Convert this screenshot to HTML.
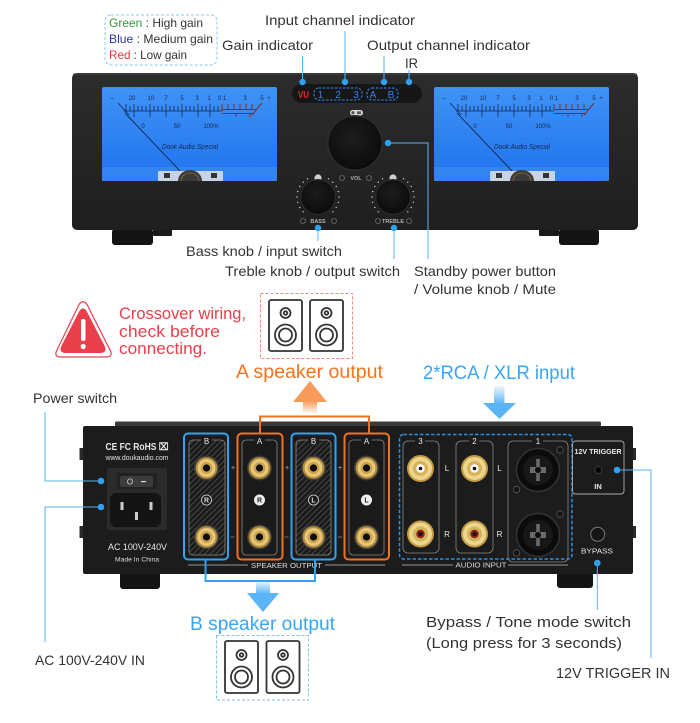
<!DOCTYPE html>
<html><head><meta charset="utf-8"><style>
html,body{margin:0;padding:0;background:#fff;}
svg{display:block;}
text{font-family:"Liberation Sans",sans-serif;}
</style></head><body>
<svg width="700" height="723" viewBox="0 0 700 723" xmlns="http://www.w3.org/2000/svg">
<defs>
<linearGradient id="meterG" x1="0" y1="0" x2="0" y2="1"><stop offset="0" stop-color="#3f93f6"/><stop offset="1" stop-color="#1f72ee"/></linearGradient>
<linearGradient id="panelG" x1="0" y1="0" x2="0" y2="1"><stop offset="0" stop-color="#2c2c2c"/><stop offset="1" stop-color="#1f1f1f"/></linearGradient>
<radialGradient id="knobG" cx="0.45" cy="0.4" r="0.6"><stop offset="0" stop-color="#1d1d1d"/><stop offset="1" stop-color="#0c0c0c"/></radialGradient>
<linearGradient id="orStem" x1="0" y1="1" x2="0" y2="0"><stop offset="0" stop-color="#f79a5a" stop-opacity="0"/><stop offset="1" stop-color="#f79a5a"/></linearGradient>
<linearGradient id="blStem" x1="0" y1="0" x2="0" y2="1"><stop offset="0" stop-color="#5ab4f5" stop-opacity="0.1"/><stop offset="1" stop-color="#5ab4f5"/></linearGradient>
<pattern id="hatch" width="4" height="4" patternUnits="userSpaceOnUse" patternTransform="rotate(45)"><rect width="4" height="4" fill="#1b1b1b"/><line x1="0" y1="0" x2="0" y2="4" stroke="#5c5c5c" stroke-width="1.3"/></pattern>
</defs>

<!-- ===== TOP LEGEND ===== -->
<rect x="105" y="15" width="112" height="50" rx="6" fill="none" stroke="#8cc8f0" stroke-width="1" stroke-dasharray="3 2"/>
<text x="109" y="27" font-size="12" fill="#333" textLength="94" lengthAdjust="spacingAndGlyphs"><tspan fill="#2f9b3c">Green</tspan> : High gain</text>
<text x="109" y="43" font-size="12" fill="#333" textLength="104" lengthAdjust="spacingAndGlyphs"><tspan fill="#2a3aa8">Blue</tspan> : Medium gain</text>
<text x="109" y="59" font-size="12" fill="#333" textLength="78" lengthAdjust="spacingAndGlyphs"><tspan fill="#e5383b">Red</tspan> : Low gain</text>

<g font-size="14" fill="#333">
<text x="265" y="25" textLength="150" lengthAdjust="spacingAndGlyphs">Input channel indicator</text>
<text x="222" y="50" textLength="91" lengthAdjust="spacingAndGlyphs">Gain indicator</text>
<text x="367" y="50" textLength="163" lengthAdjust="spacingAndGlyphs">Output channel indicator</text>
<text x="405" y="68" textLength="13" lengthAdjust="spacingAndGlyphs">IR</text>
</g>

<!-- ===== FRONT PANEL ===== -->
<rect x="112" y="229" width="41" height="16" rx="3" fill="#141414"/>
<rect x="153" y="229" width="19" height="7" rx="1" fill="#1a1a1a"/>
<rect x="559" y="229" width="40" height="16" rx="3" fill="#141414"/>
<rect x="539" y="229" width="20" height="7" rx="1" fill="#1a1a1a"/>
<rect x="72" y="73" width="566" height="157" rx="5" fill="url(#panelG)"/>
<rect x="73" y="73.5" width="564" height="1.5" rx="1" fill="#3c3c3c"/>

<!-- left meter -->
<g>
<rect x="102" y="87" width="175" height="94" rx="2" fill="url(#meterG)"/>
<rect x="102" y="167" width="175" height="14" fill="#4a96f4" opacity="0.45"/>
<g font-size="6" fill="#142850" text-anchor="middle">
<text x="112" y="100">–</text><text x="132" y="100">20</text><text x="151" y="100">10</text><text x="166" y="100">7</text><text x="182" y="100">5</text><text x="197" y="100">3</text><text x="209" y="100">1</text><text x="222" y="100">0 1</text><text x="245" y="100">3</text><text x="262" y="100">5</text><text x="269" y="100">+</text>
<text x="143" y="128">0</text><text x="177" y="128">50</text><text x="211" y="128">100%</text>
</g>
<path d="M124 111H222M126 111V106M130 111V106M134 111V104M138 111V106M142 111V106M146 111V106M150 111V104M154 111V106M158 111V106M162 111V106M166 111V104M170 111V106M174 111V106M178 111V106M182 111V104M186 111V106M190 111V106M194 111V106M198 111V104M202 111V106M206 111V106M210 111V104M214 111V106M218 111V106M134 111V117M150 111V117M166 111V117M182 111V117M198 111V117M210 111V117M118 103L129 115M126 104V111" stroke="#142850" stroke-width="0.8" fill="none"/>
<path d="M222 109.5H256M222 113.5H254M222 111V104M228 110V104M234 110V104M240 110V104M246 110V104M252 110V104M236 113V117M250 113V117M262 103L252 115" stroke="#8a2a1a" stroke-width="1" fill="none"/>
<line x1="125" y1="113" x2="181" y2="172" stroke="#101830" stroke-width="0.8"/>
<text x="190" y="149" font-family="Liberation Serif,serif" font-style="italic" font-size="7.5" fill="#142850" text-anchor="middle" textLength="56" lengthAdjust="spacingAndGlyphs">Dook Audio Special</text>
<rect x="158" y="171" width="65" height="10" rx="1" fill="#c9d3e6"/>
<rect x="164" y="173" width="6" height="5" fill="#333"/><rect x="211" y="173" width="6" height="5" fill="#333"/>
<path d="M178 181A12 11 0 0 1 202 181Z" fill="#3a3a3a"/>
<path d="M181 181A9 8 0 0 1 199 181" fill="none" stroke="#8a7030" stroke-width="0.8"/>
</g>

<!-- right meter -->
<g transform="translate(332,0)">
<rect x="102" y="87" width="175" height="94" rx="2" fill="url(#meterG)"/>
<rect x="102" y="167" width="175" height="14" fill="#4a96f4" opacity="0.45"/>
<g font-size="6" fill="#142850" text-anchor="middle">
<text x="112" y="100">–</text><text x="132" y="100">20</text><text x="151" y="100">10</text><text x="166" y="100">7</text><text x="182" y="100">5</text><text x="197" y="100">3</text><text x="209" y="100">1</text><text x="222" y="100">0 1</text><text x="245" y="100">3</text><text x="262" y="100">5</text><text x="269" y="100">+</text>
<text x="143" y="128">0</text><text x="177" y="128">50</text><text x="211" y="128">100%</text>
</g>
<path d="M124 111H222M126 111V106M130 111V106M134 111V104M138 111V106M142 111V106M146 111V106M150 111V104M154 111V106M158 111V106M162 111V106M166 111V104M170 111V106M174 111V106M178 111V106M182 111V104M186 111V106M190 111V106M194 111V106M198 111V104M202 111V106M206 111V106M210 111V104M214 111V106M218 111V106M134 111V117M150 111V117M166 111V117M182 111V117M198 111V117M210 111V117M118 103L129 115M126 104V111" stroke="#142850" stroke-width="0.8" fill="none"/>
<path d="M222 109.5H256M222 113.5H254M222 111V104M228 110V104M234 110V104M240 110V104M246 110V104M252 110V104M236 113V117M250 113V117M262 103L252 115" stroke="#8a2a1a" stroke-width="1" fill="none"/>
<line x1="125" y1="113" x2="181" y2="172" stroke="#101830" stroke-width="0.8"/>
<text x="190" y="149" font-family="Liberation Serif,serif" font-style="italic" font-size="7.5" fill="#142850" text-anchor="middle" textLength="56" lengthAdjust="spacingAndGlyphs">Dook Audio Special</text>
<rect x="158" y="171" width="65" height="10" rx="1" fill="#c9d3e6"/>
<rect x="164" y="173" width="6" height="5" fill="#333"/><rect x="211" y="173" width="6" height="5" fill="#333"/>
<path d="M178 181A12 11 0 0 1 202 181Z" fill="#3a3a3a"/>
<path d="M181 181A9 8 0 0 1 199 181" fill="none" stroke="#8a7030" stroke-width="0.8"/>
</g>

<!-- indicator display -->
<rect x="292" y="84" width="130" height="19" rx="9.5" fill="#161616"/>
<text x="298" y="98" font-size="10" font-weight="bold" fill="#e8282c" textLength="11" lengthAdjust="spacingAndGlyphs">VU</text>
<rect x="314" y="88" width="48" height="12" rx="5" fill="none" stroke="#2b8ef0" stroke-width="1" stroke-dasharray="2.5 1.5"/>
<rect x="367" y="88" width="31" height="12" rx="5" fill="none" stroke="#2b8ef0" stroke-width="1" stroke-dasharray="2.5 1.5"/>
<g font-size="10" fill="#3a7cf5" text-anchor="middle">
<text x="320.5" y="98">1</text><text x="338" y="98">2</text><text x="356" y="98">3</text><text x="373" y="98">A</text><text x="391" y="98">B</text>
</g>

<!-- volume knob -->
<rect x="350" y="110" width="13" height="5.5" rx="2.7" fill="#d8d8d8"/>
<circle cx="353" cy="112.7" r="1.6" fill="#555"/><rect x="357" y="111.3" width="4" height="2.8" fill="#555"/>
<circle cx="355" cy="143" r="28" fill="#2e2e2e"/>
<circle cx="355" cy="143" r="26.5" fill="url(#knobG)"/>
<g fill="none" stroke="#888" stroke-width="0.6"><circle cx="342" cy="178" r="2.5"/><circle cx="369" cy="178" r="2.5"/><circle cx="303" cy="221" r="2.5"/><circle cx="334" cy="221" r="2.5"/><circle cx="378" cy="221" r="2.5"/><circle cx="409" cy="221" r="2.5"/></g>
<g font-size="5.5" font-weight="bold" fill="#b0b0b0" text-anchor="middle">
<text x="356" y="180">VOL</text><text x="318" y="223">BASS</text><text x="393" y="223">TREBLE</text>
</g>
<!-- bass / treble knobs -->
<g id="bk">
<circle cx="318" cy="178" r="3.6" fill="#cfcfcf"/>
<circle cx="318" cy="197" r="18" fill="#2a2a2a"/>
<circle cx="318" cy="197" r="16.8" fill="url(#knobG)"/>
<g fill="#cfcfcf"><circle cx="303.2" cy="211.8" r="0.7"/><circle cx="299.8" cy="207.5" r="0.7"/><circle cx="297.7" cy="202.4" r="0.7"/><circle cx="297" cy="197" r="0.7"/><circle cx="297.7" cy="191.6" r="0.7"/><circle cx="299.8" cy="186.5" r="0.7"/><circle cx="303.2" cy="182.2" r="0.7"/><circle cx="307.5" cy="178.8" r="0.7"/><circle cx="328.5" cy="178.8" r="0.7"/><circle cx="332.8" cy="182.2" r="0.7"/><circle cx="336.2" cy="186.5" r="0.7"/><circle cx="338.3" cy="191.6" r="0.7"/><circle cx="339" cy="197" r="0.7"/><circle cx="338.3" cy="202.4" r="0.7"/><circle cx="336.2" cy="207.5" r="0.7"/><circle cx="332.8" cy="211.8" r="0.7"/></g>
</g>
<g transform="translate(75,0)">
<circle cx="318" cy="178" r="3.6" fill="#cfcfcf"/>
<circle cx="318" cy="197" r="18" fill="#2a2a2a"/>
<circle cx="318" cy="197" r="16.8" fill="url(#knobG)"/>
<g fill="#cfcfcf"><circle cx="303.2" cy="211.8" r="0.7"/><circle cx="299.8" cy="207.5" r="0.7"/><circle cx="297.7" cy="202.4" r="0.7"/><circle cx="297" cy="197" r="0.7"/><circle cx="297.7" cy="191.6" r="0.7"/><circle cx="299.8" cy="186.5" r="0.7"/><circle cx="303.2" cy="182.2" r="0.7"/><circle cx="307.5" cy="178.8" r="0.7"/><circle cx="328.5" cy="178.8" r="0.7"/><circle cx="332.8" cy="182.2" r="0.7"/><circle cx="336.2" cy="186.5" r="0.7"/><circle cx="338.3" cy="191.6" r="0.7"/><circle cx="339" cy="197" r="0.7"/><circle cx="338.3" cy="202.4" r="0.7"/><circle cx="336.2" cy="207.5" r="0.7"/><circle cx="332.8" cy="211.8" r="0.7"/></g>
</g>

<!-- front leaders -->
<g stroke="#5ab4f0" stroke-width="1" fill="none">
<path d="M302.5 56V82M345 31V82M384 56V82M409 70V82M388 143H428V259M318 228V241M394 228V259"/>
</g>
<g fill="#2ea3f2">
<circle cx="302.5" cy="82" r="3.2"/><circle cx="345" cy="82" r="3.2"/><circle cx="384" cy="82" r="3.2"/><circle cx="409" cy="82" r="3.2"/><circle cx="388" cy="143" r="3.2"/><circle cx="318" cy="228" r="3.2"/><circle cx="394" cy="228" r="3.2"/>
</g>

<g font-size="14" fill="#333">
<text x="186" y="256" textLength="156" lengthAdjust="spacingAndGlyphs">Bass knob / input switch</text>
<text x="225" y="276" textLength="175" lengthAdjust="spacingAndGlyphs">Treble knob / output switch</text>
<text x="414" y="276" textLength="142" lengthAdjust="spacingAndGlyphs">Standby power button</text>
<text x="414" y="294" textLength="142" lengthAdjust="spacingAndGlyphs">/ Volume knob / Mute</text>
</g>

<!-- ===== WARNING ===== -->
<path d="M79 304.5Q83 299 87 304.5L110.5 351Q113 357 106 357H61Q54 357 56.5 351Z" fill="none" stroke="#e8404a" stroke-width="1.2"/>
<path d="M80 312Q83 307 86 312L104 347Q106 352 100 352H66Q60 352 62 347Z" fill="#e8404a" stroke="#e8404a" stroke-width="2" stroke-linejoin="round"/>
<rect x="81" y="319" width="4.5" height="22" rx="2" fill="#fff"/>
<circle cx="83.2" cy="346.5" r="2.6" fill="#fff"/>
<g font-size="17" fill="#e8404a">
<text x="119" y="319" textLength="127" lengthAdjust="spacingAndGlyphs">Crossover wiring,</text>
<text x="119" y="337" textLength="101" lengthAdjust="spacingAndGlyphs">check before</text>
<text x="119" y="354" textLength="88" lengthAdjust="spacingAndGlyphs">connecting.</text>
</g>

<!-- A speaker icons -->
<rect x="260.5" y="293.5" width="92" height="65" fill="none" stroke="#f08a78" stroke-width="1" stroke-dasharray="3 2"/>
<g fill="none" stroke="#333" stroke-width="1.8">
<rect x="269" y="300" width="33" height="51" rx="2"/>
<circle cx="285.5" cy="313" r="5"/><circle cx="285.5" cy="313" r="1.8"/>
<circle cx="285.5" cy="335" r="10.5"/><circle cx="285.5" cy="335" r="6.5"/>
<rect x="310" y="300" width="33" height="51" rx="2"/>
<circle cx="326.5" cy="313" r="5"/><circle cx="326.5" cy="313" r="1.8"/>
<circle cx="326.5" cy="335" r="10.5"/><circle cx="326.5" cy="335" r="6.5"/>
</g>

<text x="236" y="378" font-size="19" fill="#f5731e" textLength="147" lengthAdjust="spacingAndGlyphs">A speaker output</text>
<text x="423" y="379" font-size="19" fill="#3aa5f3" textLength="152" lengthAdjust="spacingAndGlyphs">2*RCA / XLR input</text>

<!-- arrows -->
<rect x="303" y="401" width="14" height="13" fill="url(#orStem)"/>
<polygon points="293,402 310,381 327,402" fill="#f79a5a"/>
<rect x="494" y="386" width="10.5" height="18" fill="url(#blStem)"/>
<polygon points="483,403 499.5,419 516,403" fill="#5ab4f5"/>

<text x="33" y="403" font-size="14" fill="#333" textLength="84" lengthAdjust="spacingAndGlyphs">Power switch</text>

<!-- ===== REAR PANEL ===== -->
<rect x="120" y="572" width="40" height="17" rx="3" fill="#141414"/>
<rect x="557" y="572" width="36" height="16" rx="3" fill="#141414"/>
<rect x="115" y="421.5" width="486" height="6" rx="1.5" fill="#3a3a3a"/>
<rect x="79.5" y="448" width="4" height="12" fill="#2a2a2a"/><rect x="79.5" y="526" width="4" height="12" fill="#2a2a2a"/>
<rect x="632" y="448" width="4" height="12" fill="#2a2a2a"/><rect x="632" y="526" width="4" height="12" fill="#2a2a2a"/>
<rect x="83" y="426" width="550" height="148" rx="2" fill="#1c1c1c"/>

<!-- left info -->
<text x="137" y="450" font-size="10" font-weight="bold" fill="#e8e8e8" text-anchor="middle" textLength="63" lengthAdjust="spacingAndGlyphs">CE FC RoHS ⌧</text>
<text x="137" y="460" font-size="7" fill="#e0e0e0" text-anchor="middle" textLength="63" lengthAdjust="spacingAndGlyphs">www.doukaudio.com</text>
<rect x="107" y="468" width="60" height="62" rx="2" fill="#2b2b2b"/>
<rect x="117" y="473" width="40" height="16" rx="1" fill="#222"/>
<rect x="120" y="476" width="33" height="11" rx="2" fill="#3c3c3c"/>
<text x="130" y="484.5" font-size="8" fill="#ddd" text-anchor="middle">O</text>
<rect x="141" y="481" width="5" height="1.2" fill="#ddd"/>
<path d="M114 493H157L161 497V523L157 527H114L110 523V497Z" fill="#141414"/>
<rect x="120.5" y="502" width="3" height="8" fill="#ccc"/><rect x="149.5" y="502" width="3" height="8" fill="#ccc"/><rect x="135" y="512" width="3" height="8" fill="#ccc"/>
<text x="137.5" y="550" font-size="9" fill="#e8e8e8" text-anchor="middle" textLength="59" lengthAdjust="spacingAndGlyphs">AC 100V-240V</text>
<text x="137" y="561.5" font-size="6.5" fill="#ddd" text-anchor="middle" textLength="44" lengthAdjust="spacingAndGlyphs">Made In China</text>

<!-- speaker output columns -->
<rect x="189" y="440" width="36" height="115" rx="4" fill="url(#hatch)" stroke="#888" stroke-width="0.8"/>
<rect x="242" y="440" width="35" height="115" rx="4" fill="#1a1a1a" stroke="#888" stroke-width="0.8"/>
<rect x="296" y="440" width="35" height="115" rx="4" fill="url(#hatch)" stroke="#888" stroke-width="0.8"/>
<rect x="349" y="440" width="35" height="115" rx="4" fill="#1a1a1a" stroke="#888" stroke-width="0.8"/>
<g fill="#1c1c1c"><rect x="201" y="436" width="11" height="8"/><rect x="254" y="436" width="11" height="8"/><rect x="308" y="436" width="11" height="8"/><rect x="361" y="436" width="11" height="8"/></g>
<g font-size="8" fill="#e8e8e8" text-anchor="middle"><text x="206.5" y="444">B</text><text x="259.5" y="444">A</text><text x="313.5" y="444">B</text><text x="366.5" y="444">A</text></g>
<g id="posts">
<g transform="translate(206.5,468)"><circle r="12.5" fill="#3a3a3a"/><circle r="11" fill="#b08a38"/><circle r="9" fill="#e6c878"/><circle r="6" fill="#caa250"/><circle r="3.6" fill="#0d0d0d"/></g>
<g transform="translate(206.5,537)"><circle r="12.5" fill="#3a3a3a"/><circle r="11" fill="#b08a38"/><circle r="9" fill="#e6c878"/><circle r="6" fill="#caa250"/><circle r="3.6" fill="#0d0d0d"/></g>
<g transform="translate(259.5,468)"><circle r="12.5" fill="#3a3a3a"/><circle r="11" fill="#b08a38"/><circle r="9" fill="#e6c878"/><circle r="6" fill="#caa250"/><circle r="3.6" fill="#0d0d0d"/></g>
<g transform="translate(259.5,537)"><circle r="12.5" fill="#3a3a3a"/><circle r="11" fill="#b08a38"/><circle r="9" fill="#e6c878"/><circle r="6" fill="#caa250"/><circle r="3.6" fill="#0d0d0d"/></g>
<g transform="translate(313.5,468)"><circle r="12.5" fill="#3a3a3a"/><circle r="11" fill="#b08a38"/><circle r="9" fill="#e6c878"/><circle r="6" fill="#caa250"/><circle r="3.6" fill="#0d0d0d"/></g>
<g transform="translate(313.5,537)"><circle r="12.5" fill="#3a3a3a"/><circle r="11" fill="#b08a38"/><circle r="9" fill="#e6c878"/><circle r="6" fill="#caa250"/><circle r="3.6" fill="#0d0d0d"/></g>
<g transform="translate(366.5,468)"><circle r="12.5" fill="#3a3a3a"/><circle r="11" fill="#b08a38"/><circle r="9" fill="#e6c878"/><circle r="6" fill="#caa250"/><circle r="3.6" fill="#0d0d0d"/></g>
<g transform="translate(366.5,537)"><circle r="12.5" fill="#3a3a3a"/><circle r="11" fill="#b08a38"/><circle r="9" fill="#e6c878"/><circle r="6" fill="#caa250"/><circle r="3.6" fill="#0d0d0d"/></g>
</g>
<circle cx="206.5" cy="500" r="5" fill="#1b1b1b" stroke="#ddd" stroke-width="0.8"/>
<circle cx="259.5" cy="500" r="5.5" fill="#eee"/>
<circle cx="313.5" cy="500" r="5" fill="#1b1b1b" stroke="#ddd" stroke-width="0.8"/>
<circle cx="366.5" cy="500" r="5.5" fill="#eee"/>
<g font-size="7" font-weight="bold" text-anchor="middle"><text x="206.5" y="502.5" fill="#ddd">R</text><text x="259.5" y="502.5" fill="#222">R</text><text x="313.5" y="502.5" fill="#ddd">L</text><text x="366.5" y="502.5" fill="#222">L</text></g>
<g font-size="7" fill="#bbb" text-anchor="middle"><text x="233" y="470">+</text><text x="287" y="470">+</text><text x="340" y="470">+</text></g>
<g stroke="#888" stroke-width="0.8"><path d="M230.5 537H234.5M284.5 537H288.5M338 537H342"/></g>

<rect x="184" y="433.5" width="44" height="126" rx="4" fill="none" stroke="#35a2ee" stroke-width="2"/>
<rect x="237.5" y="433.5" width="45" height="126" rx="4" fill="none" stroke="#f0721e" stroke-width="2"/>
<rect x="291.5" y="433.5" width="44" height="126" rx="4" fill="none" stroke="#35a2ee" stroke-width="2"/>
<rect x="344.5" y="433.5" width="44.5" height="126" rx="4" fill="none" stroke="#f0721e" stroke-width="2"/>

<path d="M188 565H248M325 565H385M402 565H453M508 565H568" stroke="#999" stroke-width="1"/>
<text x="286.5" y="568" font-size="7.5" fill="#ddd" text-anchor="middle" textLength="71" lengthAdjust="spacingAndGlyphs">SPEAKER OUTPUT</text>
<text x="481" y="567.5" font-size="7.5" fill="#ddd" text-anchor="middle" textLength="51" lengthAdjust="spacingAndGlyphs">AUDIO INPUT</text>

<!-- audio input -->
<rect x="403" y="441" width="36" height="112" rx="5" fill="none" stroke="#888" stroke-width="0.8"/>
<rect x="456" y="441" width="37" height="112" rx="5" fill="none" stroke="#888" stroke-width="0.8"/>
<rect x="508" y="441" width="60" height="121" rx="5" fill="none" stroke="#888" stroke-width="0.8"/>
<g fill="#1c1c1c"><rect x="415" y="437" width="10" height="8"/><rect x="469" y="437" width="10" height="8"/><rect x="532" y="437" width="11" height="8"/></g>
<g font-size="8" fill="#e8e8e8" text-anchor="middle"><text x="420.5" y="444">3</text><text x="474.5" y="444">2</text><text x="538" y="444">1</text></g>
<g transform="translate(420.5,468.5)"><circle r="13.5" fill="#c49c44"/><circle r="11.5" fill="#ecd68e"/><circle r="7.5" fill="#d6b25a"/><circle r="4.2" fill="#fff"/><circle r="1.8" fill="#111"/></g>
<g transform="translate(474.5,468.5)"><circle r="13.5" fill="#c49c44"/><circle r="11.5" fill="#ecd68e"/><circle r="7.5" fill="#d6b25a"/><circle r="4.2" fill="#fff"/><circle r="1.8" fill="#111"/></g>
<g transform="translate(420.5,534)"><circle r="13.5" fill="#c49c44"/><circle r="11.5" fill="#ecd68e"/><circle r="7.5" fill="#d6b25a"/><circle r="4.2" fill="#8a2020"/><circle r="2" fill="#111"/></g>
<g transform="translate(474.5,534)"><circle r="13.5" fill="#c49c44"/><circle r="11.5" fill="#ecd68e"/><circle r="7.5" fill="#d6b25a"/><circle r="4.2" fill="#8a2020"/><circle r="2" fill="#111"/></g>
<g font-size="8" fill="#e8e8e8" text-anchor="middle"><text x="447" y="471">L</text><text x="447" y="537">R</text><text x="499.5" y="471">L</text><text x="499.5" y="537">R</text></g>
<g transform="translate(538,470)"><circle r="21.5" fill="#0b0b0b" stroke="#333" stroke-width="1.5"/><circle r="15" fill="#181818"/><path d="M-1.8 -11H1.8V-3H8V3H1.8V11H-1.8V3H-8V-3H-1.8Z" fill="#6a6a6a"/><circle r="3" fill="#0b0b0b"/></g>
<g transform="translate(538,535)"><circle r="21.5" fill="#0b0b0b" stroke="#333" stroke-width="1.5"/><circle r="15" fill="#181818"/><path d="M-1.8 -11H1.8V-3H8V3H1.8V11H-1.8V3H-8V-3H-1.8Z" fill="#6a6a6a"/><circle r="3" fill="#0b0b0b"/></g>
<g fill="#151515" stroke="#555" stroke-width="0.8"><circle cx="560" cy="450" r="3.3"/><circle cx="516.5" cy="489.5" r="3.3"/><circle cx="560" cy="514" r="3.3"/><circle cx="516.5" cy="553" r="3.3"/></g>
<rect x="399.5" y="434.5" width="172.5" height="124.5" rx="4" fill="none" stroke="#2e8fe0" stroke-width="1.5" stroke-dasharray="3.5 2"/>

<!-- trigger / bypass -->
<rect x="572.5" y="441" width="51.5" height="53" rx="3" fill="none" stroke="#aaa" stroke-width="0.9"/>
<text x="598" y="454" font-size="7.5" font-weight="bold" fill="#e8e8e8" text-anchor="middle" textLength="47" lengthAdjust="spacingAndGlyphs">12V TRIGGER</text>
<circle cx="598.3" cy="470" r="3.4" fill="#050505" stroke="#444" stroke-width="0.8"/>
<text x="598" y="489" font-size="7.5" font-weight="bold" fill="#e8e8e8" text-anchor="middle">IN</text>
<circle cx="597.7" cy="534.3" r="7" fill="#161616" stroke="#777" stroke-width="1"/>
<text x="597" y="553.5" font-size="7.5" fill="#e8e8e8" text-anchor="middle" textLength="32" lengthAdjust="spacingAndGlyphs">BYPASS</text>

<!-- brackets -->
<path d="M260 433V416.5H369V433" fill="none" stroke="#f0721e" stroke-width="2"/>
<path d="M205.5 560V581H315V560" fill="none" stroke="#35a2ee" stroke-width="2"/>

<!-- rear leaders -->
<g stroke="#5ab4f0" stroke-width="1" fill="none">
<path d="M45 412V481H101M101 507H45V642M597.3 563V610M617 470H651V658"/>
</g>
<g fill="#2ea3f2"><circle cx="101" cy="481" r="3.3"/><circle cx="101" cy="507" r="3.3"/><circle cx="597.3" cy="563" r="3.3"/><circle cx="617" cy="470" r="3.3"/></g>

<!-- B speaker -->
<rect x="256" y="581" width="14" height="13" fill="url(#blStem)"/>
<polygon points="247,593 263,612 279,593" fill="#5ab4f5"/>
<text x="190" y="630" font-size="19" fill="#3aa5f3" textLength="145" lengthAdjust="spacingAndGlyphs">B speaker output</text>
<rect x="216.5" y="635.5" width="92" height="64.5" fill="none" stroke="#80c2f2" stroke-width="1" stroke-dasharray="3 2"/>
<g fill="none" stroke="#333" stroke-width="1.8">
<rect x="225" y="641" width="33" height="52" rx="2"/>
<circle cx="241.5" cy="655" r="5"/><circle cx="241.5" cy="655" r="1.8"/>
<circle cx="241.5" cy="677" r="10.5"/><circle cx="241.5" cy="677" r="6.5"/>
<rect x="266.5" y="641" width="33" height="52" rx="2"/>
<circle cx="283" cy="655" r="5"/><circle cx="283" cy="655" r="1.8"/>
<circle cx="283" cy="677" r="10.5"/><circle cx="283" cy="677" r="6.5"/>
</g>

<g font-size="14" fill="#333">
<text x="35" y="665" textLength="110" lengthAdjust="spacingAndGlyphs">AC 100V-240V IN</text>
<text x="426" y="627" font-size="15" textLength="205" lengthAdjust="spacingAndGlyphs">Bypass / Tone mode switch</text>
<text x="426" y="648" font-size="15" textLength="196" lengthAdjust="spacingAndGlyphs">(Long press for 3 seconds)</text>
<text x="556" y="678" font-size="15" textLength="114" lengthAdjust="spacingAndGlyphs">12V TRIGGER IN</text>
</g>
</svg>
</body></html>
